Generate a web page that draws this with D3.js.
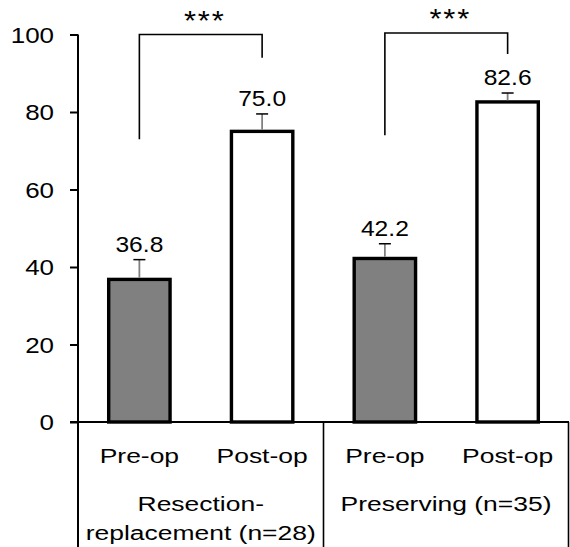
<!DOCTYPE html>
<html>
<head>
<meta charset="utf-8">
<script src="https://cdn.jsdelivr.net/npm/d3@7"></script>
<style>
  body { margin: 0; background: #fff; }
  text { font-family: "Liberation Sans", Arial, sans-serif; fill: #000; }
</style>
</head>
<body>
<main></main>
<script>
// data
const bars = ["RR-pre", "RR-post", "PR-pre", "PR-post"];
const barLabels = ["Pre-op", "Post-op", "Pre-op", "Post-op"];
const values = [36.8, 75.0, 42.2, 82.6];
const errors = [5.1, 4.5, 3.8, 2.3];
const fills = ["#808080", "#ffffff", "#808080", "#ffffff"];
const groups = [["Resection-", "replacement (n=28)"], ["Preserving (n=35)"]];
const yTicks = [0, 20, 40, 60, 80, 100];
// significance brackets: bar index from/to, top value, left foot, right foot
const brackets = [
  { from: 0, to: 1, top: 100, left: 73, right: 94, label: "***" },
  { from: 2, to: 3, top: 100.4, left: 74, right: 95, label: "***" }
];

var width = 570;
var height = 547;

var svg = d3.select("main")
  .append("svg")
  .attr("width", width)
  .attr("height", height);

const xScale = d3.scaleBand()
  .domain(bars)
  .range([78, 569])
  .paddingInner(0.5)
  .paddingOuter(0.25);

const yScale = d3.scaleLinear()
  .domain([0, 100])
  .range([422, 34.5]);

const fontSize = 22;

// the text in the picture is a bit wider than the font, so stretch it
function label(x, y, str, stretch, anchor, size) {
  return svg.append("text")
    .attr("transform", "translate(" + x + "," + y + ") scale(" + stretch + ",1)")
    .attr("text-anchor", anchor || "middle")
    .style("font-size", (size || fontSize) + "px")
    .text(str);
}

// y axis, labels drawn by hand so they can be stretched
var y_axis = d3.axisLeft(yScale)
  .tickValues(yTicks)
  .tickSize(8)
  .tickFormat("");

var yg = svg.append("g")
  .attr("transform", "translate(78,0)")
  .call(y_axis);
yg.select(".domain").remove();
yg.selectAll(".tick line").attr("stroke", "#000").attr("stroke-width", 2);

yTicks.forEach(t => {
  label(54, yScale(t) + 8, d3.format("d")(t), 1.18, "end");
});

// axis line plus the table lines under it
svg.append("line")
  .attr("x1", 78).attr("x2", 78)
  .attr("y1", yScale(100)).attr("y2", height)
  .attr("stroke", "#000").attr("stroke-width", 2);

svg.append("line")
  .attr("x1", 70).attr("x2", 569)
  .attr("y1", yScale(0)).attr("y2", yScale(0))
  .attr("stroke", "#000").attr("stroke-width", 2);

const step = xScale.step();
const dividers = [xScale(bars[1]) + xScale.bandwidth() + (step - xScale.bandwidth()) / 2, 568.5];
dividers.forEach(x => {
  svg.append("line")
    .attr("x1", x).attr("x2", x)
    .attr("y1", yScale(0)).attr("y2", height)
    .attr("stroke", "#000").attr("stroke-width", 1.6);
});

// bars
svg.selectAll(".bar")
  .data(bars)
  .enter()
  .append("rect")
  .attr("class", "bar")
  .attr("x", d => xScale(d))
  .attr("width", xScale.bandwidth())
  .attr("y", (d, i) => yScale(values[i]))
  .attr("height", (d, i) => yScale(0) - yScale(values[i]))
  .style("fill", (d, i) => fills[i])
  .attr("stroke", "#000")
  .attr("stroke-width", 3.4);

// error bars + value labels
bars.forEach((d, i) => {
  const cx = xScale(d) + xScale.bandwidth() / 2;
  const top = yScale(values[i] + errors[i]);
  svg.append("line")
    .attr("x1", cx).attr("x2", cx)
    .attr("y1", yScale(values[i]) - 1.7).attr("y2", top)
    .attr("stroke", "#808080").attr("stroke-width", 1.8);
  svg.append("line")
    .attr("x1", cx - 6).attr("x2", cx + 6)
    .attr("y1", top).attr("y2", top)
    .attr("stroke", "#000").attr("stroke-width", 1.5);
  label(cx, top - 8, values[i].toFixed(1), 1.12);
});

// brackets
brackets.forEach(b => {
  const x1 = xScale(bars[b.from]) + xScale.bandwidth() / 2;
  const x2 = xScale(bars[b.to]) + xScale.bandwidth() / 2;
  const path = d3.path();
  path.moveTo(x1, yScale(b.left));
  path.lineTo(x1, yScale(b.top));
  path.lineTo(x2, yScale(b.top));
  path.lineTo(x2, yScale(b.right));
  svg.append("path")
    .attr("d", path.toString())
    .attr("fill", "none")
    .attr("stroke", "#000")
    .attr("stroke-width", 1.6);
  label((x1 + x2) / 2 + 4, yScale(b.top) - 5, b.label, 1.15, "middle", 27)
    .style("letter-spacing", "1.5px");
});

// category labels
bars.forEach((d, i) => {
  label(xScale(d) + xScale.bandwidth() / 2, 463, barLabels[i], 1.26, "middle", 21);
});

// group labels
const groupCenters = [(78 + dividers[0]) / 2, (dividers[0] + dividers[1]) / 2];
groups.forEach((lines, g) => {
  lines.forEach((t, k) => {
    label(groupCenters[g], 511 + k * 29, t, 1.26, "middle", 21);
  });
});
</script>
</body>
</html>
